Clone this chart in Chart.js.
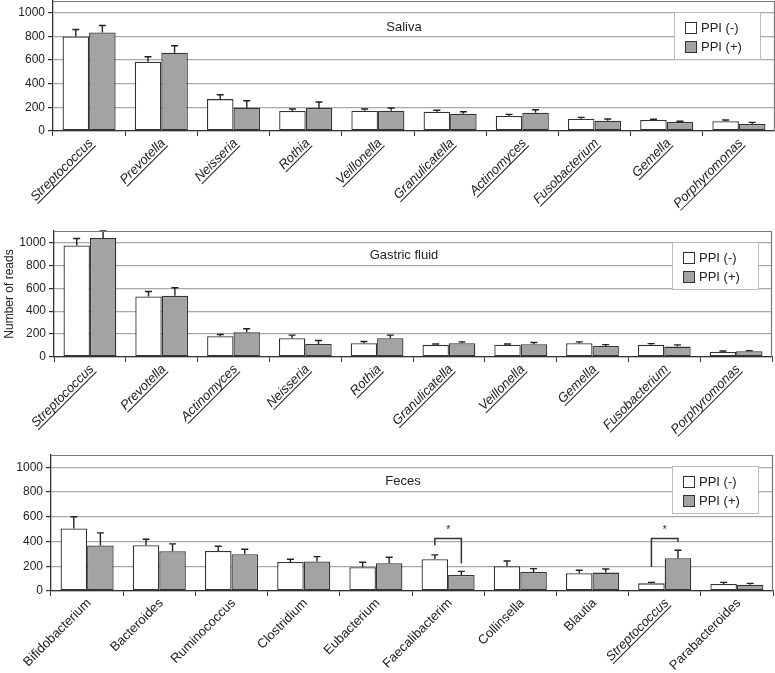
<!DOCTYPE html>
<html>
<head>
<meta charset="UTF-8">
<title>Number of reads - PPI</title>
<script src="https://cdn.jsdelivr.net/npm/chart.js"></script>
<style>
  body { margin: 0; background: #fff; }
  .panel { position: absolute; left: 0; width: 775px; }
</style>
</head>
<body>
<div class="panel" style="top:0;height:225px"><canvas id="saliva" width="775" height="225"></canvas></div>
<div class="panel" style="top:225px;height:225px"><canvas id="gastric" width="775" height="225"></canvas></div>
<div class="panel" style="top:450px;height:223px"><canvas id="feces" width="775" height="223"></canvas></div>

<script>
// series
var seriesNames = ['PPI (-)', 'PPI (+)'];

// saliva
var salivaGenera = ['Streptococcus', 'Prevotella', 'Neisseria', 'Rothia', 'Veillonella',
    'Granulicatella', 'Actinomyces', 'Fusobacterium', 'Gemella', 'Porphyromonas'];
var salivaMinus = [800, 586, 270, 169, 172, 163, 127, 104, 93, 82];
var salivaMinusErr = [59, 42, 37, 17, 14, 12, 14, 11, 6, 11];
var salivaPlus = [834, 662, 197, 194, 172, 146, 155, 87, 76, 59];
var salivaPlusErr = [59, 59, 59, 51, 22, 17, 25, 14, 6, 14];

// gastric fluid
var gastricGenera = ['Streptococcus', 'Prevotella', 'Actinomyces', 'Neisseria', 'Rothia',
    'Granulicatella', 'Veillonella', 'Gemella', 'Fusobacterium', 'Porphyromonas'];
var gastricMinus = [974, 528, 182, 164, 120, 106, 108, 120, 106, 44];
var gastricMinusErr = [61, 44, 14, 27, 15, 8, 6, 12, 11, 9];
var gastricPlus = [1038, 534, 217, 114, 164, 120, 111, 97, 91, 50];
var gastricPlusErr = [62, 70, 29, 30, 27, 12, 15, 11, 15, 6];

// feces
var fecesGenera = ['Bifidobacterium', 'Bacteroides', 'Ruminococcus', 'Clostridium', 'Eubacterium',
    'Faecalibacterim', 'Collinsella', 'Blautia', 'Streptococcus', 'Parabacteroides'];
var fecesMinus = [505, 370, 324, 235, 192, 257, 200, 143, 62, 57];
var fecesMinusErr = [95, 49, 38, 22, 40, 35, 43, 25, 8, 13];
var fecesPlus = [368, 322, 297, 238, 224, 130, 154, 149, 265, 51];
var fecesPlusErr = [102, 59, 41, 40, 49, 29, 27, 29, 65, 11];

// significance brackets (feces): category, top, left leg end, right leg end
var bracketCats = [5, 8];
var bracketTop = [424, 424];
var bracketLeftEnd = [370, 195];
var bracketRightEnd = [222, 397];

// y axis
var yMax = 1100;
var yStep = 200;

var FONT = '"Liberation Sans", Arial, sans-serif';
var INK = '#222';

// error whiskers above each bar
var errorBars = {
    id: 'errorBars',
    afterDatasetsDraw: function (chart) {
        var ctx = chart.ctx, y = chart.scales.y;
        ctx.save();
        ctx.strokeStyle = INK;
        ctx.lineWidth = 1.4;
        chart.data.datasets.forEach(function (ds, i) {
            chart.getDatasetMeta(i).data.forEach(function (bar, j) {
                var top = y.getPixelForValue(ds.data[j] + ds.errors[j]);
                ctx.beginPath();
                ctx.moveTo(bar.x, bar.y);
                ctx.lineTo(bar.x, top);
                ctx.moveTo(bar.x - 3.5, top);
                ctx.lineTo(bar.x + 3.5, top);
                ctx.stroke();
            });
        });
        ctx.restore();
    }
};

// top / right frame of the plot
var frame = {
    id: 'frame',
    afterDraw: function (chart) {
        var a = chart.chartArea, ctx = chart.ctx;
        ctx.save();
        ctx.strokeStyle = '#777';
        ctx.lineWidth = 1.2;
        ctx.beginPath();
        ctx.moveTo(a.left, a.top + 0.5);
        ctx.lineTo(a.right - 0.5, a.top + 0.5);
        ctx.lineTo(a.right - 0.5, a.bottom);
        ctx.stroke();
        ctx.restore();
    }
};

// rotated genus names, some underlined
var genusLabels = {
    id: 'genusLabels',
    afterDraw: function (chart, args, opts) {
        var ctx = chart.ctx, x = chart.scales.x, base = chart.chartArea.bottom;
        chart.data.labels.forEach(function (label, i) {
            var style = opts.style(i);
            ctx.save();
            ctx.font = (style.italic ? 'italic ' : '') + '13px ' + FONT;
            ctx.fillStyle = INK;
            ctx.translate(x.getPixelForValue(i) + 2, base + 10);
            ctx.rotate(-Math.PI / 4);
            ctx.textAlign = 'right';
            ctx.textBaseline = 'middle';
            ctx.fillText(label, 0, 0);
            if (style.underline) {
                var w = ctx.measureText(label).width;
                ctx.fillRect(-w, 6, w, 1);
            }
            ctx.restore();
        });
    }
};

// panel name inside plot
var panelTitle = {
    id: 'panelTitle',
    afterDraw: function (chart, args, opts) {
        var ctx = chart.ctx;
        ctx.save();
        ctx.font = '13px ' + FONT;
        ctx.fillStyle = INK;
        ctx.textAlign = 'center';
        ctx.textBaseline = 'middle';
        ctx.fillText(opts.text, opts.x, opts.y);
        ctx.restore();
    }
};

// boxed legend
var boxLegend = {
    id: 'boxLegend',
    afterDraw: function (chart, args, opts) {
        var ctx = chart.ctx;
        ctx.save();
        ctx.fillStyle = '#fff';
        ctx.fillRect(opts.left, opts.top, 86, 47);
        ctx.strokeStyle = '#bbb';
        ctx.lineWidth = 1;
        ctx.strokeRect(opts.left + 0.5, opts.top + 0.5, 86, 47);
        ctx.font = '13px ' + FONT;
        ctx.textBaseline = 'middle';
        chart.data.datasets.forEach(function (ds, i) {
            var sy = opts.top + 10 + i * 19;
            ctx.fillStyle = ds.backgroundColor;
            ctx.fillRect(opts.left + 11, sy, 12, 12);
            ctx.strokeStyle = '#333';
            ctx.strokeRect(opts.left + 11.5, sy + 0.5, 11, 11);
            ctx.fillStyle = INK;
            ctx.fillText(ds.label, opts.left + 27, sy + 6.5);
        });
        ctx.restore();
    }
};

// significance brackets
var brackets = {
    id: 'brackets',
    afterDatasetsDraw: function (chart) {
        if (!chart.options.plugins.brackets.show) return;
        var ctx = chart.ctx, y = chart.scales.y;
        var m0 = chart.getDatasetMeta(0), m1 = chart.getDatasetMeta(1);
        ctx.save();
        ctx.strokeStyle = '#333';
        ctx.lineWidth = 1.5;
        bracketCats.forEach(function (c, k) {
            var x0 = m0.data[c].x, x1 = m1.data[c].x;
            var top = y.getPixelForValue(bracketTop[k]);
            ctx.beginPath();
            ctx.moveTo(x0, y.getPixelForValue(bracketLeftEnd[k]));
            ctx.lineTo(x0, top);
            ctx.lineTo(x1, top);
            ctx.lineTo(x1, y.getPixelForValue(bracketRightEnd[k]));
            ctx.stroke();
            ctx.fillStyle = INK;
            ctx.font = '10px ' + FONT;
            ctx.textAlign = 'center';
            ctx.fillText('*', (x0 + x1) / 2, top - 6);
        });
        ctx.restore();
    }
};

function makePanel(id, genera, minus, minusErr, plus, plusErr, cfg) {
    var ctx = document.getElementById(id).getContext('2d');
    return new Chart(ctx, {
        type: 'bar',
        data: {
            labels: genera,
            datasets: [{
                label: seriesNames[0],
                data: minus,
                errors: minusErr,
                backgroundColor: '#ffffff',
                borderColor: '#333',
                borderWidth: 1.3,
                borderSkipped: false,
                barPercentage: 1,
                categoryPercentage: 0.735
            }, {
                label: seriesNames[1],
                data: plus,
                errors: plusErr,
                backgroundColor: '#a3a3a3',
                borderColor: '#333',
                borderWidth: 1.3,
                borderSkipped: false,
                barPercentage: 1,
                categoryPercentage: 0.735
            }]
        },
        options: {
            responsive: false,
            animation: false,
            layout: { padding: { left: 0, top: cfg.top, right: cfg.right, bottom: 0 } },
            scales: {
                x: {
                    grid: { display: true, drawOnChartArea: false, drawTicks: true, tickLength: 5, tickColor: '#333', offset: true },
                    ticks: { display: false },
                    border: { color: '#333', width: 1.3 },
                    afterFit: function (s) { s.height = cfg.xHeight; s.paddingLeft = 0; s.paddingRight = 0; }
                },
                y: {
                    min: 0,
                    max: yMax,
                    ticks: {
                        stepSize: yStep, includeBounds: false, padding: 3, color: INK,
                        font: { family: FONT, size: 12 },
                        callback: function (v) { return String(v); }
                    },
                    grid: { color: '#a8a8a8', lineWidth: 1.2, tickLength: 5, tickColor: '#333' },
                    border: { color: '#333', width: 1.3 },
                    title: { display: !!cfg.yTitle, text: cfg.yTitle || '', color: INK, font: { family: FONT, size: 12 }, padding: { top: 2, bottom: 0 } },
                    afterFit: function (s) { s.width = cfg.yWidth; s.paddingTop = 0; s.paddingBottom = 0; }
                }
            },
            plugins: {
                legend: { display: false },
                tooltip: { enabled: false },
                genusLabels: { style: cfg.labelStyle },
                panelTitle: { text: cfg.title, x: cfg.titleX, y: cfg.titleY },
                boxLegend: { left: cfg.legendLeft, top: cfg.legendTop },
                brackets: { show: !!cfg.brackets }
            }
        },
        plugins: [frame, errorBars, brackets, genusLabels, panelTitle, boxLegend]
    });
}

var oral = function () { return { italic: true, underline: true }; };

makePanel('saliva', salivaGenera, salivaMinus, salivaMinusErr, salivaPlus, salivaPlusErr, {
    top: 1, right: 0, xHeight: 94, yWidth: 53,
    title: 'Saliva', titleX: 404, titleY: 27,
    legendLeft: 674, legendTop: 12,
    labelStyle: oral
});

makePanel('gastric', gastricGenera, gastricMinus, gastricMinusErr, gastricPlus, gastricPlusErr, {
    top: 6, right: 3, xHeight: 93, yWidth: 54, yTitle: 'Number of reads',
    title: 'Gastric fluid', titleX: 404, titleY: 30,
    legendLeft: 672, legendTop: 17,
    labelStyle: oral
});

makePanel('feces', fecesGenera, fecesMinus, fecesMinusErr, fecesPlus, fecesPlusErr, {
    top: 5, right: 2, xHeight: 82, yWidth: 51,
    title: 'Feces', titleX: 403, titleY: 31,
    legendLeft: 672, legendTop: 16,
    brackets: true,
    labelStyle: function (i) {
        var oralGenus = fecesGenera[i] === 'Streptococcus';
        return { italic: oralGenus, underline: oralGenus };
    }
});
</script>
</body>
</html>
